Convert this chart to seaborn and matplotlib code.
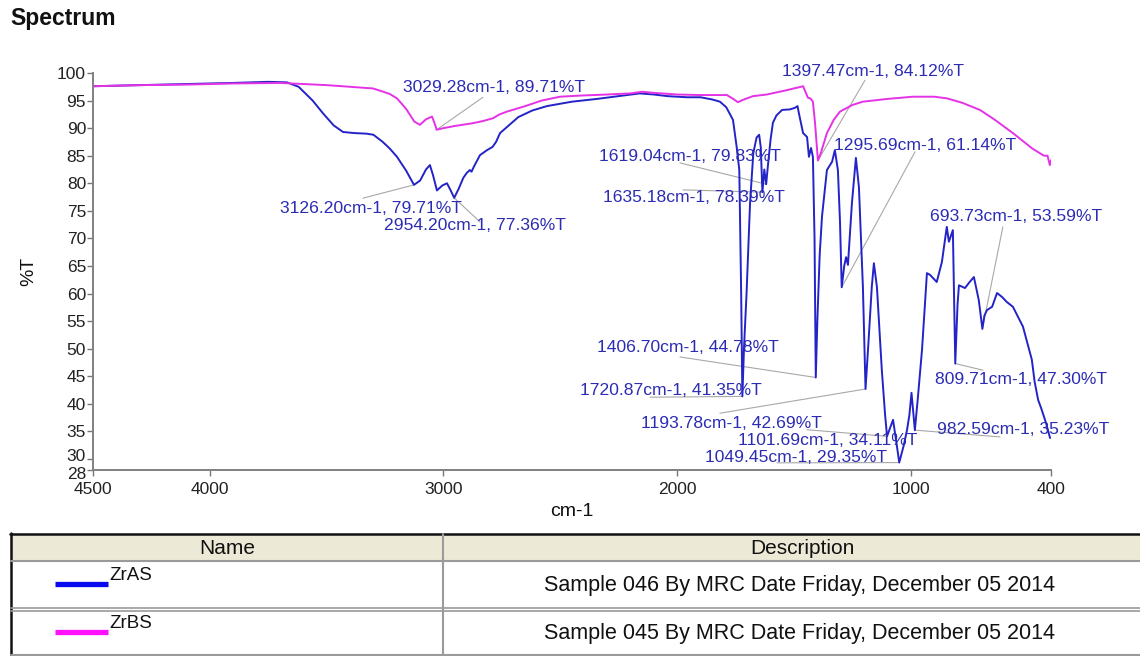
import matplotlib
matplotlib.use("Agg")
import matplotlib.pyplot as plt
import matplotlib.transforms as mtransforms
import pandas as pd
import seaborn as sns

# ---- spectra: wavenumber (cm-1) and transmittance (%T) ----
zras_wn = [4500, 4300, 4100, 3900, 3750, 3670, 3620, 3560, 3516, 3470, 3430, 3380,
           3330, 3300, 3260, 3230, 3199, 3160, 3126.20, 3100, 3075, 3058, 3045, 3028,
           3005, 2985, 2968, 2954.20, 2935, 2915, 2900, 2887, 2880, 2870, 2844, 2814,
           2790, 2775, 2758, 2720, 2680, 2620, 2557, 2450, 2343, 2250, 2160, 2100,
           2040, 1958, 1900, 1850, 1817, 1790, 1761, 1745, 1734, 1726, 1720.87, 1714,
           1703, 1688, 1674, 1660, 1649, 1642, 1635.18, 1627, 1619.04, 1612, 1600,
           1590, 1575, 1551, 1517, 1495, 1485, 1478, 1461, 1444, 1436, 1427, 1419,
           1412, 1406.70, 1400, 1390, 1380, 1359, 1337, 1325, 1312, 1303, 1295.69,
           1285, 1277, 1269, 1252, 1235, 1222, 1205, 1193.78, 1180, 1167, 1158, 1145,
           1124, 1110, 1101.69, 1090, 1076, 1060, 1049.45, 1030, 1016, 1006, 997,
           982.59, 970, 952, 931, 918, 889, 867, 846, 837, 820, 815, 809.71, 800, 794,
           768, 750, 730, 709, 693.73, 685, 674, 652, 631, 610, 590, 563, 520, 482,
           470, 455, 442, 421, 404]
zras_t = [97.6, 97.8, 98.0, 98.2, 98.4, 98.3, 97.5, 95.0, 92.7, 90.5, 89.3, 89.1,
          89.0, 88.8, 87.5, 86.3, 84.8, 82.3, 79.71, 80.5, 82.5, 83.3, 81.5, 78.7,
          79.6, 80.0, 78.6, 77.36, 79.0, 81.0, 81.9, 82.4, 82.1, 83.0, 85.1, 86.0,
          86.6, 87.5, 89.1, 90.5, 92.0, 93.2, 94.0, 94.8, 95.3, 95.8, 96.3, 96.1,
          95.8, 95.6, 95.6, 95.2, 94.8, 93.8, 91.5, 86.5, 82.4, 60.0, 41.35, 50.0,
          60.0, 76.4, 85.5, 88.3, 88.8, 86.5, 78.39, 82.5, 79.83, 83.0, 88.0,
          91.0, 92.3, 93.3, 93.4, 93.7, 94.0, 92.5, 89.1, 88.4, 84.8, 86.4, 84.8,
          70.0, 44.78, 55.0, 67.0, 74.0, 82.4, 83.9, 86.0, 82.4, 73.0, 61.14,
          65.0, 66.6, 65.2, 76.4, 84.6, 79.3, 61.2, 42.69, 52.0, 61.2, 65.5, 61.2,
          46.1, 38.0, 34.11, 35.5, 37.1, 32.5, 29.35, 32.5, 35.3, 38.0, 42.0,
          35.23, 41.0, 49.8, 63.7, 63.4, 62.1, 65.7, 72.1, 69.4, 71.5, 60.0, 47.30, 58.0, 61.5,
          61.0, 62.0, 63.0, 58.8, 53.59, 56.0, 57.0, 57.6, 60.1, 59.4, 58.5, 57.6, 54.0, 48.0,
          44.0, 40.7, 39.2, 36.5, 33.8]

zrbs_wn = [4500, 4300, 4100, 3900, 3700, 3500, 3302, 3272, 3230, 3199, 3160, 3125,
           3101, 3075, 3049, 3035, 3029.28, 3000, 2950, 2874, 2830, 2788, 2760, 2728,
           2650, 2580, 2501, 2416, 2300, 2200, 2150, 2100, 2000, 1900, 1787, 1760,
           1740, 1720, 1676, 1616, 1540, 1480, 1461, 1450, 1440, 1430, 1419, 1410,
           1397.47, 1385, 1359, 1330, 1303, 1250, 1205, 1100, 991, 900, 845, 780,
           704, 640, 563, 480, 430, 415, 405, 400]
zrbs_t = [97.6, 97.8, 97.9, 98.1, 98.2, 97.8, 97.2, 96.8, 96.2, 95.4, 93.5, 91.2,
          90.6, 91.6, 92.1, 90.5, 89.71, 90.0, 90.4, 90.9, 91.3, 91.8, 92.5, 93.0,
          94.0, 95.0, 95.7, 95.9, 96.1, 96.3, 96.6, 96.4, 96.1, 96.0, 96.0, 95.3,
          94.7, 95.1, 95.8, 96.1, 96.8, 97.4, 97.6, 96.5, 95.5, 95.4, 94.8, 91.0,
          84.12, 85.5, 89.1, 91.5, 93.0, 94.2, 94.8, 95.3, 95.7, 95.7, 95.4, 94.6,
          93.3, 91.5, 89.1, 86.3, 85.0, 85.0, 83.3, 84.2]

sample_names = ["ZrAS", "ZrBS"]
sample_desc = ["Sample 046 By MRC Date Friday, December 05 2014",
               "Sample 045 By MRC Date Friday, December 05 2014"]
line_colors = {"ZrAS": "#2323c8", "ZrBS": "#e632e6"}
swatch_colors = {"ZrAS": "#0a0aee", "ZrBS": "#ff10ff"}

# ---- peak picks: (wavenumber, %T), label anchor (wn, %T), leader start (wn, %T) ----
peak_wn = [3029.28, 3126.20, 2954.20, 1397.47, 1619.04, 1635.18, 1295.69, 693.73,
           1406.70, 1720.87, 1193.78, 1101.69, 1049.45, 982.59, 809.71]
peak_t = [89.71, 79.71, 77.36, 84.12, 79.83, 78.39, 61.14, 53.59,
          44.78, 41.35, 42.69, 34.11, 29.35, 35.23, 47.30]
label_wn = [3173, 3700, 3255, 1551, 2335, 2317, 1329, 918,
            2343, 2416, 2155, 1740, 1881, 888, 896]
label_t = [97.3, 75.5, 72.3, 100.2, 84.8, 77.5, 86.9, 73.9,
           50.3, 42.5, 36.5, 33.4, 30.2, 35.4, 44.5]
lead_wn = [2831, 3345, 2844, 1196, 1988, 1975, 982, 606,
           1988, 2116, 1817, 1444, 1573, 618, 691]
lead_t = [95.6, 77.3, 73.0, 98.7, 83.7, 78.8, 85.7, 72.1,
          48.5, 41.2, 38.3, 35.3, 29.3, 34.0, 46.1]

x_ticks = [4500, 4000, 3000, 2000, 1000, 400]
y_ticks = [28, 30, 35, 40, 45, 50, 55, 60, 65, 70, 75, 80, 85, 90, 95, 100]

sns.set_style("ticks")
plt.rcParams["font.family"] = ["Liberation Sans", "DejaVu Sans"]

spectra = pd.concat([
    pd.DataFrame({"wn": zras_wn, "T": zras_t, "sample": "ZrAS"}),
    pd.DataFrame({"wn": zrbs_wn, "T": zrbs_t, "sample": "ZrBS"}),
])

fig = plt.figure(figsize=(11.4, 6.56), dpi=100)
ax = fig.add_axes([93 / 1140, 1 - 470 / 656, 958 / 1140, 397 / 656])

sns.lineplot(data=spectra, x="wn", y="T", hue="sample", palette=line_colors,
             estimator=None, sort=True, legend=False, linewidth=1.4, ax=ax)

ax.set_xlim(4500, 400)
ax.set_ylim(28, 100)
ax.set_xticks(x_ticks)
ax.set_yticks(y_ticks)
ax.tick_params(axis="both", direction="out", length=4, width=1, color="#777777",
               labelsize=12.5, labelcolor="#222222")
ax.tick_params(axis="x", pad=5)
ax.tick_params(axis="y", pad=1)
for side in ("top", "right"):
    ax.spines[side].set_visible(False)
for side in ("left", "bottom"):
    ax.spines[side].set_color("#808080")
    ax.spines[side].set_linewidth(1.4)
ax.set_xlabel("cm-1", fontsize=14, labelpad=4, color="#111111")
ax.set_ylabel("%T", fontsize=14, labelpad=14, color="#111111")

# the 28 and 30 ticks sit close together; lift the 30 label slightly
fig.canvas.draw()
for lab in ax.get_yticklabels():
    if lab.get_text() == "30":
        lab.set_transform(lab.get_transform() +
                          mtransforms.ScaledTranslation(0, 3 / 72, fig.dpi_scale_trans))
    if lab.get_text() == "28":
        lab.set_transform(lab.get_transform() +
                          mtransforms.ScaledTranslation(0, -2 / 72, fig.dpi_scale_trans))

label_color = "#2b2bb4"
for wn, t, lx, ly, sx, sy in zip(peak_wn, peak_t, label_wn, label_t, lead_wn, lead_t):
    ax.plot([sx, wn], [sy, t], color="#a8a8a8", lw=0.8, zorder=1, clip_on=False)
    ax.text(lx, ly, f"{wn:.2f}cm-1, {t:.2f}%T", color=label_color, fontsize=12.6,
            ha="left", va="center", zorder=3)

fig.text(10 / 1140, 1 - 18 / 656, "Spectrum", fontsize=16.5, fontweight="bold",
         ha="left", va="center", color="#111111")

# ---- sample table below the plot (figure pixel coordinates) ----
tab = fig.add_axes([0, 0, 1, 1], zorder=-1)
tab.set_xlim(0, 1140)
tab.set_ylim(656, 0)
tab.axis("off")
tab.add_patch(plt.Rectangle((11, 534), 1129, 26, facecolor="#ecead6", edgecolor="none"))
tab.plot([10, 1140], [533.5, 533.5], color="#111111", lw=1.8)
tab.plot([11, 11], [533, 656], color="#111111", lw=1.8)
tab.plot([11, 1140], [560.5, 560.5], color="#9a9a9a", lw=1.5)
tab.plot([11, 1140], [607.5, 607.5], color="#9a9a9a", lw=1.2)
tab.plot([11, 1140], [610.5, 610.5], color="#9a9a9a", lw=1.2)
tab.plot([11, 1140], [655, 655], color="#9a9a9a", lw=1.5)
tab.plot([443, 443], [534, 656], color="#9a9a9a", lw=1.5)
tab.text(227, 548, "Name", fontsize=15, ha="center", va="center", color="#111111")
tab.text(802, 548, "Description", fontsize=15, ha="center", va="center", color="#111111")

row_mid = [585, 633]
for name, desc, ym in zip(sample_names, sample_desc, row_mid):
    tab.plot([55, 108], [ym - 1, ym - 1], color=swatch_colors[name], lw=3.8,
             solid_capstyle="butt")
    tab.text(109, ym - 9, name, fontsize=13.5, ha="left", va="center", color="#111111")
    tab.text(800, ym, desc, fontsize=15.5, ha="center", va="center", color="#111111")

fig.savefig("out.png", dpi=100, facecolor="white")
